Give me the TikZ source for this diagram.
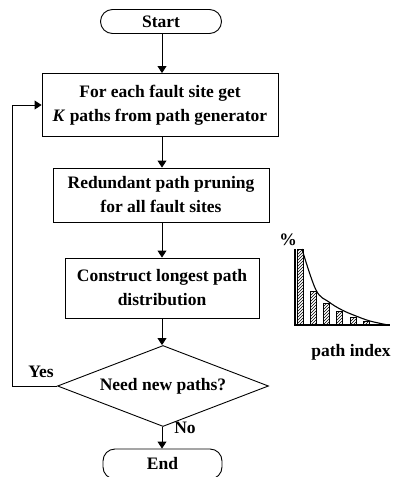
\documentclass[tikz,border=0pt]{standalone}
\usepackage{fontspec}
\setmainfont{Liberation Serif}
\usetikzlibrary{arrows.meta,shapes.geometric,patterns}
\begin{document}
\begin{tikzpicture}[x=1pt,y=-1pt,
  font=\fontsize{17.5}{24}\selectfont\bfseries,
  proc/.style={draw, line width=0.9pt, align=center, inner sep=0pt},
  term/.style={draw, line width=0.9pt, rounded corners=12pt, inner sep=0pt},
  decis/.style={draw, diamond, aspect=2.6, line width=0.9pt, inner sep=0pt},
  arr/.style={-{Triangle[length=7pt,width=9pt]}, line width=0.9pt},
  lbl/.style={inner sep=0pt},
  axis/.style={line width=1.2pt},
  bar/.style={draw, line width=0.7pt, pattern=north east lines}]
\useasboundingbox (0,0) rectangle (392,477);
\node[term, minimum width=121pt, minimum height=24pt] (start) at (161,21.5) {Start};
\node[proc, minimum width=236pt, minimum height=63pt] (b1) at (160,105) {For each fault site get\\\textit{K} paths from path generator};
\node[proc, minimum width=216pt, minimum height=54pt] (b2) at (161,195) {Redundant path pruning\\for all fault sites};
\node[proc, minimum width=194pt, minimum height=60pt] (b3) at (162,288) {Construct longest path\\distribution};
\node[decis, minimum width=211pt, minimum height=81pt] (dec) at (163,386) {Need new paths?};
\node[term, minimum width=119pt, minimum height=30pt] (end) at (162.5,464) {End};
\node[lbl] (yes) at (41,372) {Yes};
\node[lbl] (no) at (185,428) {No};
\coordinate (loop) at (12,386);
\draw[arr] (start.south -| 162,0) -- (162,0 |- b1.north);
\draw[arr] (b1.south -| 162,0) -- (162,0 |- b2.north);
\draw[arr] (b2.south -| 162,0) -- (162,0 |- b3.north);
\draw[arr] (b3.south -| 162,0) -- (162,0 |- dec.north);
\draw[arr] (dec.south -| 162,0) -- (162,0 |- end.north);
\draw[arr] (dec.west) -- (loop) |- (b1.west);
% chart
\node[lbl] (pct) at (288,240) {\%};
\node[lbl] (pidx) at (351,352) {path index};
\draw[axis] (295,249) -- (295,325) -- (390,325);
\draw[bar] (297,325) rectangle (303,249);
\draw[bar] (310,325) rectangle (316,291);
\draw[bar] (323,325) rectangle (329,303);
\draw[bar] (336,325) rectangle (342,311);
\draw[bar] (350,325) rectangle (356,317);
\draw[bar] (363,325) rectangle (369,321);
\draw[line width=1.1pt] plot[smooth, tension=0.6] coordinates {(302,249) (316,290) (329,302) (342,310) (356,316) (370,321) (388,325)};
\end{tikzpicture}
\end{document}
